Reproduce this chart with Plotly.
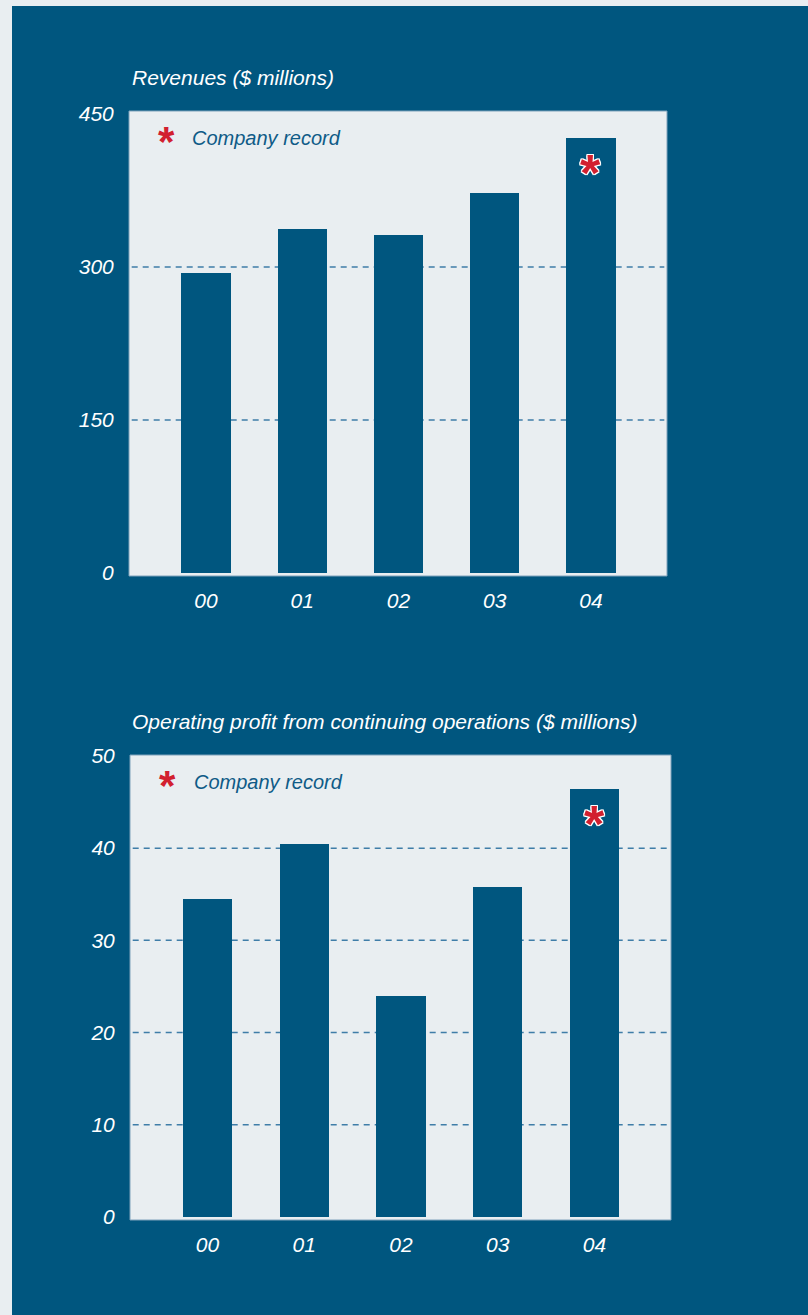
import plotly.graph_objects as go

# Fiscal years and the two series ($ millions)
years = ["00", "01", "02", "03", "04"]
revenues = [294, 337, 331, 373, 427]
operating_profit = [34.5, 40.4, 24.0, 35.8, 46.4]

rev_ticks = [0, 150, 300, 450]
rev_grid = [150, 300]
op_ticks = [0, 10, 20, 30, 40, 50]
op_grid = [10, 20, 30, 40]

rev_title = "Revenues ($ millions)"
op_title = "Operating profit from continuing operations ($ millions)"
record_label = "Company record"

W, H = 808, 1315
NAVY = "#00567F"
PALE = "#E9EEF1"
RED = "#D2202F"
GRID = "#3F7DA8"
FONT = "Liberation Sans, Arial, sans-serif"


def px_x(p):
    return p / W


def px_y(p):
    return 1 - p / H


fig = go.Figure()

panels = [
    dict(xa="x", ya="y", vals=revenues, ticks=rev_ticks, grid=rev_grid,
         title=rev_title, xdom=[px_x(129), px_x(667)], ydom=[px_y(576), px_y(111)],
         yrange=[-2.9, 453], title_y=px_y(77)),
    dict(xa="x2", ya="y2", vals=operating_profit, ticks=op_ticks, grid=op_grid,
         title=op_title, xdom=[px_x(130), px_x(671)], ydom=[px_y(1220), px_y(755)],
         yrange=[-0.33, 50.1], title_y=px_y(721)),
]

shapes = [
    # dark panel behind everything
    dict(type="rect", xref="paper", yref="paper", x0=px_x(12), x1=1.0,
         y0=0, y1=px_y(6), fillcolor=NAVY, line=dict(width=0), layer="below"),
]
annotations = []

for i, p in enumerate(panels):
    suffix = "" if i == 0 else "2"
    fig.add_trace(go.Bar(
        x=years, y=p["vals"], xaxis=p["xa"], yaxis=p["ya"],
        marker=dict(color=NAVY, line=dict(width=0)), width=0.51,
        showlegend=False, hoverinfo="skip",
    ))

    axis_font = dict(family=FONT, size=21, color="white", style="italic")
    fig.layout["xaxis" + suffix] = dict(
        domain=p["xdom"], anchor=p["ya"], range=[-0.8, 4.79],
        showgrid=False, zeroline=False, showline=False, automargin=False,
        ticks="outside", ticklen=6, tickcolor="rgba(0,0,0,0)",
        tickfont=axis_font, fixedrange=True,
    )
    fig.layout["yaxis" + suffix] = dict(
        domain=p["ydom"], anchor=p["xa"], range=p["yrange"],
        tickvals=p["ticks"], showgrid=False, zeroline=False, showline=False,
        automargin=False,
        ticks="outside", ticklen=10, tickcolor="rgba(0,0,0,0)",
        tickfont=axis_font, fixedrange=True,
    )

    # pale plotting area
    shapes.append(dict(
        type="rect", xref=p["xa"] + " domain", yref=p["ya"] + " domain",
        x0=0, x1=1, y0=0, y1=1, fillcolor=PALE, line=dict(width=0), layer="below",
    ))
    # dashed reference lines behind the bars
    for g in p["grid"]:
        shapes.append(dict(
            type="line", xref=p["xa"] + " domain", yref=p["ya"],
            x0=0.005, x1=0.995, y0=g, y1=g,
            line=dict(color=GRID, width=1.5, dash="6px,5px"), layer="below",
        ))
    # thin frame around the plotting area
    shapes.append(dict(
        type="rect", xref=p["xa"] + " domain", yref=p["ya"] + " domain",
        x0=0, x1=1, y0=0, y1=1, line=dict(color="#7FA2BC", width=1),
        fillcolor="rgba(0,0,0,0)", layer="above",
    ))

    # chart title above the plotting area
    annotations.append(dict(
        text=p["title"], xref="paper", yref="paper", x=px_x(130), y=p["title_y"],
        xanchor="left", yanchor="middle", showarrow=False,
        font=dict(family=FONT, size=21, color="white", style="italic"),
    ))

    # key: red asterisk + "Company record"
    annotations.append(dict(
        text="*", xref=p["xa"] + " domain", yref=p["ya"] + " domain",
        x=0.07, y=0.935, xanchor="center", yanchor="middle", showarrow=False,
        font=dict(family="Liberation Sans, Arial", size=42, color=RED, weight="bold"),
    ))
    annotations.append(dict(
        text=record_label, xref=p["xa"] + " domain", yref=p["ya"] + " domain",
        x=0.114, y=0.943, xanchor="left", yanchor="middle", showarrow=False,
        font=dict(family=FONT, size=20, color="#0F5B87", style="italic"),
    ))

    # record marker on the highest bar
    vals = p["vals"]
    rec = max(range(len(vals)), key=lambda k: vals[k])
    annotations.append(dict(
        text="*", xref=p["xa"], yref=p["ya"], x=years[rec], y=vals[rec],
        xanchor="center", yanchor="top", yshift=-4, showarrow=False,
        font=dict(family="Liberation Sans, Arial", size=52, color=RED, weight="bold",
                  shadow="1px 0 0 white, -1px 0 0 white, 0 1px 0 white, 0 -1px 0 white, 1px 1px 0 white, -1px -1px 0 white, 1px -1px 0 white, -1px 1px 0 white"),
    ))

fig.update_layout(
    width=W, height=H, margin=dict(l=0, r=0, t=0, b=0, autoexpand=False),
    paper_bgcolor=PALE, plot_bgcolor=PALE,
    shapes=shapes, annotations=annotations, bargap=0,
    showlegend=False,
)

fig.write_html("out.html", config={"displayModeBar": False})
